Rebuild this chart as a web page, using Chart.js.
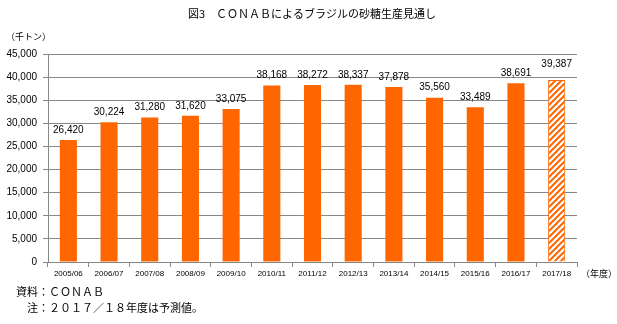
<!DOCTYPE html>
<html>
<head>
<meta charset="utf-8">
<script src="https://cdn.jsdelivr.net/npm/chart.js@4/dist/chart.umd.min.js"></script>
<style>
  html, body { margin: 0; padding: 0; background: #fff; }
  #wrap { width: 617px; height: 324px; position: relative; }
</style>
</head>
<body>
<div id="wrap"><canvas id="sugarChart" width="617" height="324"></canvas></div>
<script>
const years = ["2005/06", "2006/07", "2007/08", "2008/09", "2009/10", "2010/11", "2011/12",
  "2012/13", "2013/14", "2014/15", "2015/16", "2016/17", "2017/18"];
const production = [26420, 30224, 31280, 31620, 33075, 38168, 38272, 38337, 37878, 35560, 33489, 38691, 39387];
const forecast = [false, false, false, false, false, false, false, false, false, false, false, false, true];
const yTicks = [0, 5000, 10000, 15000, 20000, 25000, 30000, 35000, 40000, 45000];

const ORANGE = "#ff6600";
const JP = "'Noto Sans CJK JP', sans-serif";

function hatchPattern() {
  const c = document.createElement("canvas");
  c.width = 6; c.height = 6;
  const g = c.getContext("2d");
  g.fillStyle = "#fff";
  g.fillRect(0, 0, 6, 6);
  g.strokeStyle = ORANGE;
  g.lineWidth = 2;
  g.beginPath();
  g.moveTo(-1, 7); g.lineTo(7, -1);
  g.moveTo(-4, 4); g.lineTo(4, -4);
  g.moveTo(2, 10); g.lineTo(10, 2);
  g.stroke();
  return g.createPattern(c, "repeat");
}

const textPlugin = {
  id: "texts",
  afterDraw(chart) {
    const ctx = chart.ctx;
    ctx.save();
    ctx.fillStyle = "#000";
    ctx.textBaseline = "middle";

    ctx.font = "11px " + JP;
    ctx.textAlign = "center";
    ctx.fillText("図3　ＣＯＮＡＢによるブラジルの砂糖生産見通し", 312, 14);

    ctx.font = "9px " + JP;
    ctx.textAlign = "left";
    ctx.fillText("（千トン）", 6, 37);
    ctx.fillText("（年度）", 581, 274);

    ctx.font = "11px " + JP;
    ctx.fillText("資料：ＣＯＮＡＢ", 16, 292);
    ctx.fillText("注：２０１７／１８年度は予測値。", 27, 308);

    // value labels
    ctx.font = "10px 'Liberation Sans', Arial, sans-serif";
    ctx.textAlign = "center";
    ctx.textBaseline = "bottom";
    const meta = chart.getDatasetMeta(0);
    meta.data.forEach((bar, i) => {
      const lift = forecast[i] ? 11 : 5;
      ctx.fillText(production[i].toLocaleString("en-US"), bar.x, bar.y - lift);
    });
    ctx.restore();
  }
};

const ctx = document.getElementById("sugarChart").getContext("2d");
const hatch = hatchPattern();

new Chart(ctx, {
  type: "bar",
  data: {
    labels: years,
    datasets: [{
      data: production,
      backgroundColor: forecast.map(f => f ? hatch : ORANGE),
      borderColor: ORANGE,
      borderWidth: forecast.map(f => f ? 1 : 0),
      categoryPercentage: 1,
      barPercentage: 0.42
    }]
  },
  options: {
    responsive: false,
    animation: false,
    layout: { padding: { top: 54, right: 40, left: 0, bottom: 0 } },
    plugins: {
      legend: { display: false },
      tooltip: { enabled: false }
    },
    scales: {
      x: {
        afterFit(scale) { scale.height = 62; },
        grid: {
          offset: true,
          drawOnChartArea: false,
          drawTicks: true,
          tickLength: 5,
          color: "#888"
        },
        border: { color: "#888" },
        ticks: {
          color: "#000",
          padding: 2,
          maxRotation: 0,
          autoSkip: false,
          font: { size: 8, family: "'Liberation Sans', Arial, sans-serif" }
        }
      },
      y: {
        min: 0,
        max: 45000,
        afterFit(scale) { scale.width = 48; },
        afterBuildTicks(scale) { scale.ticks = yTicks.map(v => ({ value: v })); },
        grid: { color: "#888", tickLength: 5 },
        border: { color: "#888" },
        ticks: {
          color: "#000",
          padding: 6,
          font: { size: 10, family: "'Liberation Sans', Arial, sans-serif" },
          callback: v => v.toLocaleString("en-US")
        }
      }
    }
  },
  plugins: [textPlugin]
});
</script>
</body>
</html>
